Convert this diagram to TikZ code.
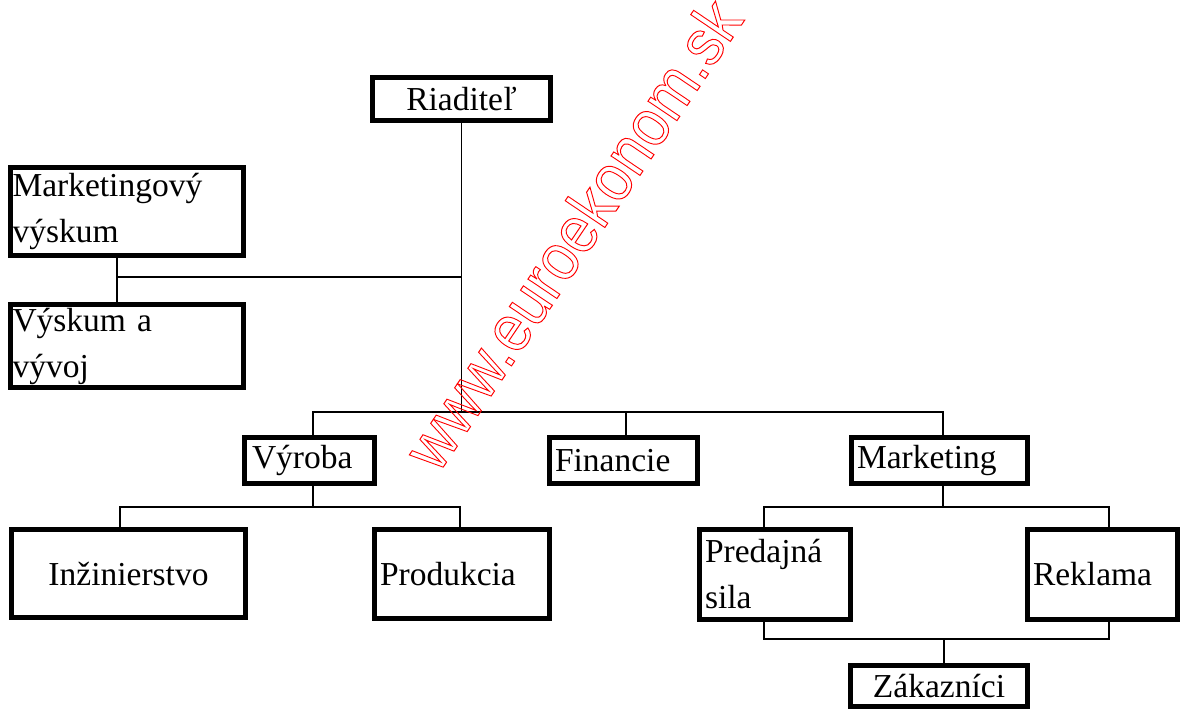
\documentclass[tikz,border=0pt]{standalone}
\usepackage{fontspec}
\setmainfont{Liberation Serif}
\newfontfamily\wmfont{Liberation Sans}
\newcommand\boxfont{\fontsize{16.75}{23}\selectfont}

\tikzset{
  unit/.style={draw, line width=2.5pt, inner sep=0pt, font=\boxfont, align=left},
  link/.style={line width=0.8pt},
}

\begin{document}
\begin{tikzpicture}[x=0.5pt, y=-0.5pt]
  \useasboundingbox (0,0) rectangle (1180,709);

  % boxes
  \node[unit, align=center, minimum width=89pt, minimum height=21.5pt] (riad) at (461.5,99) {Riaditeľ};
  \node[unit, minimum width=116.5pt, minimum height=44pt, text width=114.5pt] (mvys) at (127,211.5) {Marketingový\\výskum};
  \node[unit, minimum width=116.5pt, minimum height=41.5pt, text width=114.5pt] (vyv) at (127,346) {Výskum a\\vývoj};
  \node[unit, minimum width=65pt, minimum height=23pt, text width=57.5pt] (vyr) at (309.5,460.5) {Výroba};
  \node[unit, minimum width=74pt, minimum height=23pt, text width=68.5pt] (fin) at (623.5,460.5) {Financie};
  \node[unit, minimum width=88pt, minimum height=23pt, text width=82.5pt] (mkt) at (939.5,460.5) {Marketing};
  \node[unit, align=center, minimum width=117pt, minimum height=44pt] (inz) at (128.5,573.5) {Inžinierstvo};
  \node[unit, minimum width=87.5pt, minimum height=44.5pt, text width=82pt] (prod) at (462,574) {Produkcia};
  \node[unit, minimum width=75.5pt, minimum height=45pt, text width=70pt] (pred) at (775,574.5) {Predajná\\sila};
  \node[unit, minimum width=75pt, minimum height=45pt, text width=69.5pt] (rekl) at (1102.5,574.5) {Reklama};
  \node[unit, align=center, minimum width=88.5pt, minimum height=20.5pt] (zak) at (939,686) {Zákazníci};

  % junctions
  \coordinate (lbar) at (117,277);
  \coordinate (b1) at (313,412);
  \coordinate (b2) at (626,412);
  \coordinate (b3) at (943,412);
  \coordinate (vl) at (120,507);
  \coordinate (vr) at (460,507);
  \coordinate (ml) at (764,507);
  \coordinate (mr) at (1109,507);
  \coordinate (zl) at (764,639);
  \coordinate (zm) at (944,639);
  \coordinate (zr) at (1109,639);

  % connectors
  \draw[link] (riad.south) -- (riad.south |- b1);
  \draw[link] (mvys.south -| lbar) -- (vyv.north -| lbar);
  \draw[link] (lbar) -- (lbar -| riad.south);
  \draw[link] (vyr.north -| b1) -- (b1) -- (b3) -- (mkt.north -| b3);
  \draw[link] (b2) -- (fin.north -| b2);
  \draw[link] (vyr.south -| b1) -- (b1 |- vl);
  \draw[link] (inz.north -| vl) -- (vl) -- (vr) -- (prod.north -| vr);
  \draw[link] (mkt.south -| b3) -- (b3 |- ml);
  \draw[link] (pred.north -| ml) -- (ml) -- (mr) -- (rekl.north -| mr);
  \draw[link] (pred.south -| zl) -- (zl) -- (zr) -- (rekl.south -| zr);
  \draw[link] (zm) -- (zak.north -| zm);

  % watermark
  \node[rotate=56, xscale=0.9, text=red, font=\wmfont\fontsize{33}{33}\selectfont] (wm) at (572,234)
    {\special{pdf:literal direct 1 Tr 0.5 w}www.euroekonom.sk\special{pdf:literal direct 0 Tr}};
\end{tikzpicture}
\end{document}
